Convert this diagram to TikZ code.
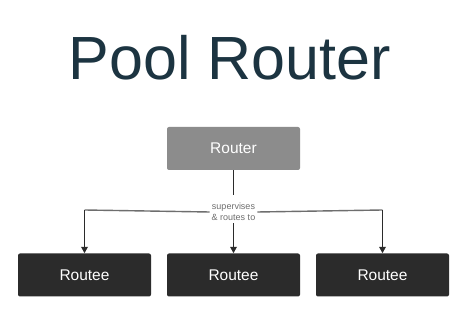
\documentclass[tikz,border=0pt]{standalone}
\usepackage{fontspec}
\setmainfont{Liberation Sans}
\usetikzlibrary{arrows.meta}
\definecolor{titleblue}{HTML}{1C3441}
\definecolor{routergray}{HTML}{8C8C8C}
\definecolor{routeedark}{HTML}{2B2B2B}
\definecolor{linegray}{HTML}{6E6E6E}
\begin{document}
\begin{tikzpicture}[x=1pt,y=-1pt,
  box/.style={rectangle, rounded corners=2pt, minimum width=133pt, minimum height=43pt,
    inner sep=0pt, text=white, font=\fontsize{15.5}{17}\selectfont},
  routerbox/.style={box, fill=routergray},
  routeebox/.style={box, fill=routeedark},
  conn/.style={line width=1.6pt, draw=routeedark},
  hline/.style={line width=1.4pt, draw=linegray},
  tip/.style={-{Triangle[length=6.5pt,width=6.5pt]}}]
\useasboundingbox (0,0) rectangle (472,312);
\fill[white] (0,0) rectangle (472,312);

% title
\node[text=titleblue, font=\fontsize{61}{66}\selectfont, anchor=base] (title) at (230,80) {Pool Router};

% router and its routees
\node[routerbox] (router) at (233.5,148.5) {Router};
\node[routeebox] (r1) at (84.5,275) {Routee};
\node[routeebox] (r2) at (233.5,275) {Routee};
\node[routeebox] (r3) at (382.5,275) {Routee};

% fan-out label and branch corners
\node[align=center, text=linegray, font=\fontsize{9}{11.5}\selectfont, inner sep=2pt] (lbl) at (233.5,212) {supervises\\\& routes to};
\coordinate (stem) at (233.5,195);
\coordinate (cl) at (84.5,210);
\coordinate (cr) at (382.5,210);

\draw[conn] (router.south) -- (stem);
\draw[hline] (lbl.west) -- (cl);
\draw[hline] (lbl.east) -- (cr);
\draw[conn,tip] (cl) -- (r1.north);
\draw[conn,tip] (cr) -- (r3.north);
\draw[conn,tip] (lbl.south) -- (r2.north);
\end{tikzpicture}
\end{document}
